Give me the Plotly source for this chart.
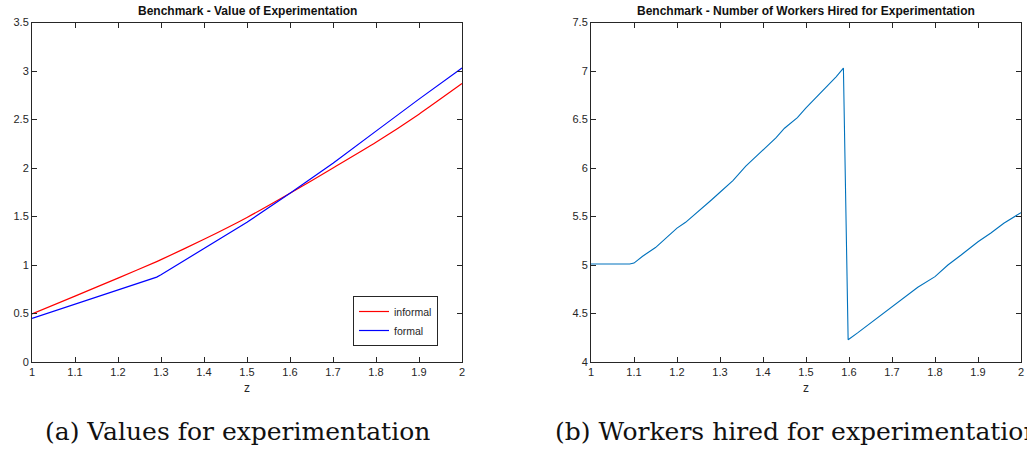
import plotly.graph_objects as go

# Panel (a): value of experimentation
z_a = [1.0, 1.1, 1.2, 1.29, 1.3, 1.4, 1.5, 1.6, 1.7, 1.8, 1.9, 2.0]
informal = [0.495, 0.679, 0.865, 1.035, 1.055, 1.265, 1.49, 1.74, 2.00, 2.265, 2.555, 2.87]
formal = [0.45, 0.595, 0.74, 0.875, 0.90, 1.17, 1.44, 1.74, 2.05, 2.38, 2.71, 3.03]

# Panel (b): workers hired for experimentation
z_b = [1.00, 1.05, 1.09, 1.10, 1.12, 1.15, 1.18, 1.20, 1.22, 1.25, 1.28, 1.30,
       1.33, 1.36, 1.38, 1.40, 1.43, 1.45, 1.48, 1.50, 1.52, 1.55, 1.57, 1.587,
       1.598, 1.62, 1.65, 1.68, 1.70, 1.73, 1.76, 1.80, 1.83, 1.86, 1.90, 1.93,
       1.96, 2.00]
workers = [5.01, 5.01, 5.01, 5.02, 5.09, 5.18, 5.30, 5.38, 5.44, 5.55, 5.67, 5.75,
           5.87, 6.02, 6.10, 6.19, 6.31, 6.41, 6.52, 6.62, 6.71, 6.85, 6.94, 7.03,
           4.23, 4.30, 4.40, 4.50, 4.57, 4.67, 4.77, 4.88, 5.00, 5.10, 5.24, 5.33,
           5.43, 5.54]

x_ticks = [1, 1.1, 1.2, 1.3, 1.4, 1.5, 1.6, 1.7, 1.8, 1.9, 2]
x_labels = ["1", "1.1", "1.2", "1.3", "1.4", "1.5", "1.6", "1.7", "1.8", "1.9", "2"]
ya_ticks = [0, 0.5, 1, 1.5, 2, 2.5, 3, 3.5]
ya_labels = ["0", "0.5", "1", "1.5", "2", "2.5", "3", "3.5"]
yb_ticks = [4, 4.5, 5, 5.5, 6, 6.5, 7, 7.5]
yb_labels = ["4", "4.5", "5", "5.5", "6", "6.5", "7", "7.5"]

W, H = 1027, 458
AX = "#262626"
SANS = "Liberation Sans, Arial, sans-serif"
SERIF = "DejaVu Serif, Liberation Serif, serif"

fig = go.Figure()
fig.add_trace(go.Scatter(x=z_a, y=informal, mode="lines", name="informal",
                         line=dict(color="#FF0000", width=1.2, shape="spline", smoothing=0.6),
                         xaxis="x", yaxis="y"))
fig.add_trace(go.Scatter(x=z_a, y=formal, mode="lines", name="formal",
                         line=dict(color="#0000FF", width=1.2),
                         xaxis="x", yaxis="y"))
fig.add_trace(go.Scatter(x=z_b, y=workers, mode="lines", showlegend=False,
                         line=dict(color="#0072BD", width=1.1),
                         xaxis="x2", yaxis="y2"))

y_dom = [(H - 362) / H, (H - 22.5) / H]

def xaxis(dom, anchor):
    return dict(domain=dom, anchor=anchor, range=[1, 2], tickvals=x_ticks,
                ticktext=x_labels, ticks="inside", ticklen=5, tickcolor=AX,
                showline=True, linecolor=AX, linewidth=1, mirror="allticks",
                showgrid=False, zeroline=False, automargin=False,
                tickfont=dict(family=SANS, size=11, color=AX),
                title=dict(text="z", font=dict(family=SANS, size=12, color=AX),
                           standoff=6))

def yaxis(rng, tv, tt, anchor):
    return dict(domain=y_dom, anchor=anchor, range=rng, tickvals=tv, ticktext=tt,
                ticks="inside", ticklen=5, tickcolor=AX, showline=True,
                linecolor=AX, linewidth=1, mirror="allticks", showgrid=False,
                zeroline=False, automargin=False,
                tickfont=dict(family=SANS, size=11, color=AX))

fig.update_layout(
    width=W, height=H,
    margin=dict(l=0, r=0, t=0, b=0, autoexpand=False),
    paper_bgcolor="white", plot_bgcolor="white",
    xaxis=xaxis([32 / W, 462 / W], "y"),
    yaxis=yaxis([0, 3.5], ya_ticks, ya_labels, "x"),
    xaxis2=xaxis([591 / W, 1021 / W], "y2"),
    yaxis2=yaxis([4, 7.5], yb_ticks, yb_labels, "x2"),
    showlegend=True,
    legend=dict(x=353 / W, y=(H - 296) / H, xanchor="left", yanchor="top",
                bgcolor="white", bordercolor=AX, borderwidth=1,
                font=dict(family=SANS, size=10.5, color=AX),
                itemwidth=30, tracegroupgap=0),
    annotations=[
        dict(text="<b>Benchmark - Value of Experimentation</b>", x=247 / W, y=(H - 11) / H,
             xref="paper", yref="paper", showarrow=False, xanchor="center", yanchor="middle",
             font=dict(family=SANS, size=12, color="#111")),
        dict(text="<b>Benchmark - Number of Workers Hired for Experimentation</b>",
             x=806 / W, y=(H - 11) / H, xref="paper", yref="paper", showarrow=False,
             xanchor="center", yanchor="middle", font=dict(family=SANS, size=12, color="#111")),
        dict(text="(a) Values for experimentation", x=237 / W, y=(H - 431) / H,
             xref="paper", yref="paper", showarrow=False, xanchor="center", yanchor="middle",
             font=dict(family=SERIF, size=25, color="#111")),
        dict(text="(b) Workers hired for experimentation", x=553 / W, y=(H - 431) / H,
             xref="paper", yref="paper", showarrow=False, xanchor="left", yanchor="middle",
             font=dict(family=SERIF, size=25, color="#111")),
    ],
)

fig.write_html("out.html")
